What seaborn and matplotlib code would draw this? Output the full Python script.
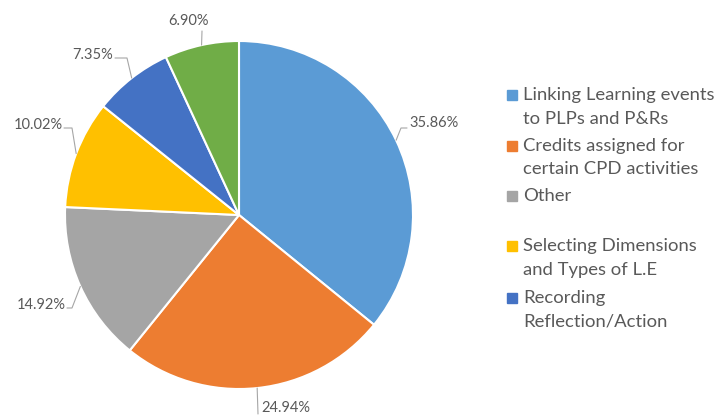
import numpy as np
import matplotlib
matplotlib.use("Agg")
import matplotlib.pyplot as plt
from matplotlib.patches import Rectangle
import seaborn as sns

# Share of responses per category (percent), clockwise from 12 o'clock
categories = [
    "Linking Learning events\nto PLPs and P&Rs",
    "Credits assigned for\ncertain CPD activities",
    "Other",
    "Selecting Dimensions\nand Types of L.E",
    "Recording\nReflection/Action",
    "",
]
values = [35.86, 24.94, 14.92, 10.02, 7.35, 6.90]
value_labels = ["35.86%", "24.94%", "14.92%", "10.02%", "7.35%", "6.90%"]
colors = ["#5B9BD5", "#ED7D31", "#A5A5A5", "#FFC000", "#4472C4", "#70AD47"]

sns.set_theme(style="white")
plt.rcParams["font.family"] = ["Lato", "DejaVu Sans"]
TEXT = "#595959"
LEADER = "#A6A6A6"

W, H = 715, 417
fig = plt.figure(figsize=(W / 100, H / 100), dpi=100)
fig.patch.set_facecolor("white")

# pie area in pixels: centre (239, 215), radius 174
cx, cy, R = 239, 215, 174
ax = fig.add_axes([(cx - R) / W, (H - cy - R) / H, 2 * R / W, 2 * R / H])
wedges, _ = ax.pie(values, colors=colors, startangle=90, counterclock=False,
                   wedgeprops=dict(edgecolor="white", linewidth=1.5))
ax.set_xlim(-1, 1)
ax.set_ylim(-1, 1)
ax.set_aspect("equal")
ax.axis("off")


def to_data(px, py):
    return (px - cx) / R, (cy - py) / R


# label placement (pixel layout): text anchor, alignment, elbow point
label_layout = [
    ((409, 123), "left", [(401, 128), (407, 128)]),
    ((261, 408), "left", [(258, 414)]),
    ((66, 305), "right", [(72, 308), (67, 308)]),
    ((63, 125), "right", [(72, 128), (64, 128)]),
    ((113, 55), "right", [(127, 58), (115, 58)]),
    ((188, 21), "center", [(202, 31)]),
]

for w, lab, (tpos, ha, pts) in zip(wedges, value_labels, label_layout):
    mid = np.deg2rad((w.theta1 + w.theta2) / 2)
    ex, ey = np.cos(mid), np.sin(mid)
    xs = [ex] + [to_data(*p)[0] for p in pts]
    ys = [ey] + [to_data(*p)[1] for p in pts]
    ax.plot(xs, ys, color=LEADER, lw=0.8, clip_on=False)
    tx, ty = to_data(*tpos)
    ax.text(tx, ty, lab, ha=ha, va="center", fontsize=10.5, color=TEXT,
            clip_on=False)

# legend drawn in figure pixels
legend_rows = [95, 146, 196, 246, 298]
line_gap = 23.5
for (name, col, y) in zip(categories[:5], colors[:5], legend_rows):
    fig.patches.append(Rectangle((507 / W, (H - y - 4.5) / H), 9.5 / W, 9.5 / H,
                                 transform=fig.transFigure, color=col))
    for k, line in enumerate(name.split("\n")):
        fig.text(523 / W, (H - y - k * line_gap) / H, line, ha="left",
                 va="center", fontsize=13.3, color=TEXT)

fig.savefig("out.png", dpi=100)
